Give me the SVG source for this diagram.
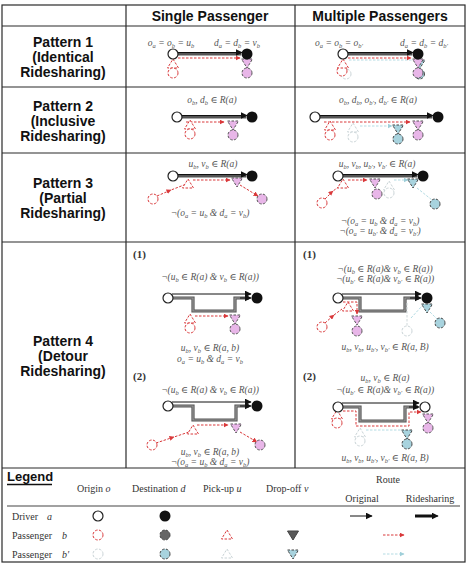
<svg xmlns="http://www.w3.org/2000/svg" xmlns:xlink="http://www.w3.org/1999/xlink" width="468" height="579" viewBox="0 0 468 579">
<style>
.grid{stroke:#2a2a2a;stroke-width:1.2;fill:none}
.hd{font-family:"Liberation Sans",Arial,sans-serif;font-weight:bold;font-size:14px;text-anchor:middle;fill:#111}
.pl{font-family:"Liberation Sans",Arial,sans-serif;font-weight:bold;font-size:14px;text-anchor:middle;fill:#111}
.m{font-family:"Liberation Serif","DejaVu Serif",serif;font-style:italic;font-size:9.5px;fill:#555;text-anchor:middle}
.s{font-size:6.5px;baseline-shift:-1.8px}
.n{font-family:"Liberation Serif","DejaVu Serif",serif;font-weight:bold;font-size:11px;fill:#333}
.lg{font-family:"Liberation Serif","DejaVu Serif",serif;font-size:10px;fill:#333}
.lgi{font-style:italic}
.orig{stroke:#111;stroke-width:1;fill:none}
.ride{stroke:#555;stroke-width:3.2;fill:none}
.ridein{stroke:#9a9a9a;stroke-width:1.2;fill:none}
.red{stroke:#d9383a;stroke-width:1;stroke-dasharray:2.5,1.5;fill:none}
.cy{stroke:#b3dbe3;stroke-width:1;stroke-dasharray:2.5,1.5;fill:none}
.gy{stroke:#cfd8da;stroke-width:1;stroke-dasharray:2.5,1.5;fill:none}
</style>
<defs>
<marker id="ak" viewBox="0 0 10 10" refX="9" refY="5" markerWidth="7" markerHeight="7" orient="auto" markerUnits="userSpaceOnUse"><path d="M0,0 L10,5 L0,10 z" fill="#111"/></marker>
<marker id="ar" viewBox="0 0 10 10" refX="9" refY="5" markerWidth="5" markerHeight="5" orient="auto" markerUnits="userSpaceOnUse"><path d="M0,0 L10,5 L0,10 z" fill="#d9383a"/></marker>
<marker id="ac" viewBox="0 0 10 10" refX="9" refY="5" markerWidth="5" markerHeight="5" orient="auto" markerUnits="userSpaceOnUse"><path d="M0,0 L10,5 L0,10 z" fill="#9fcfd9"/></marker>
<g id="dO"><circle r="5" fill="#fff" stroke="#222" stroke-width="1.2"/></g>
<g id="dD"><circle r="5.5" fill="#111"/></g>
<g id="bO"><circle r="5" fill="#fff" stroke="#d9383a" stroke-width="1" stroke-dasharray="2.5,1.5"/></g>
<g id="bU"><path d="M0,-5 L5.5,4 L-5.5,4 Z" fill="#fff" stroke="#d9383a" stroke-width="1" stroke-dasharray="2.5,1.5"/></g>
<g id="bV"><path d="M-5.5,-4 L5.5,-4 L0,5 Z" fill="#e8b6e8" stroke="#555" stroke-width="1" stroke-dasharray="2.5,1.5"/></g>
<g id="bD"><circle r="5" fill="#e8b6e8" stroke="#555" stroke-width="1" stroke-dasharray="2.5,1.5"/></g>
<g id="cO"><circle r="5" fill="#fff" stroke="#c9d3d6" stroke-width="1" stroke-dasharray="2.5,1.5"/></g>
<g id="cU"><path d="M0,-5 L5.5,4 L-5.5,4 Z" fill="#fff" stroke="#c9d3d6" stroke-width="1" stroke-dasharray="2.5,1.5"/></g>
<g id="cV"><path d="M-5.5,-4 L5.5,-4 L0,5 Z" fill="#a8d3de" stroke="#444" stroke-width="1" stroke-dasharray="2.5,1.5"/></g>
<g id="cD"><circle r="5" fill="#a8d3de" stroke="#444" stroke-width="1" stroke-dasharray="2.5,1.5"/></g>
<g id="gV"><path d="M-5.5,-4 L5.5,-4 L0,5 Z" fill="#5a5a5a" stroke="#444" stroke-width="1"/></g>
<g id="gD"><circle r="5" fill="#666" stroke="#444" stroke-width="1" stroke-dasharray="2.5,1.5"/></g>
</defs>
<rect width="468" height="579" fill="#fff"/>

<g id="grid" class="grid">
<rect x="2" y="5" width="463" height="557"/>
<line x1="2" y1="26" x2="465" y2="26"/>
<line x1="2" y1="87" x2="465" y2="87"/>
<line x1="2" y1="153" x2="465" y2="153"/>
<line x1="2" y1="242" x2="465" y2="242"/>
<line x1="2" y1="468" x2="465" y2="468"/>
<line x1="126" y1="5" x2="126" y2="468"/>
<line x1="295" y1="5" x2="295" y2="468"/>
</g>

<g id="headers">
<text class="hd" x="210" y="21">Single Passenger</text>
<text class="hd" x="380" y="21">Multiple Passengers</text>
<text class="pl" x="63" y="47">Pattern 1</text>
<text class="pl" x="63" y="62">(Identical</text>
<text class="pl" x="63" y="77">Ridesharing)</text>
<text class="pl" x="63" y="111">Pattern 2</text>
<text class="pl" x="63" y="126">(Inclusive</text>
<text class="pl" x="63" y="141">Ridesharing)</text>
<text class="pl" x="63" y="188">Pattern 3</text>
<text class="pl" x="63" y="203">(Partial</text>
<text class="pl" x="63" y="218">Ridesharing)</text>
<text class="pl" x="63" y="346">Pattern 4</text>
<text class="pl" x="63" y="361">(Detour</text>
<text class="pl" x="63" y="376">Ridesharing)</text>
</g>

<g id="formulas">
<text class="m" x="171" y="46">o<tspan class="s">a</tspan> = o<tspan class="s">b</tspan> = u<tspan class="s">b</tspan></text>
<text class="m" x="237" y="46">d<tspan class="s">a</tspan> = d<tspan class="s">b</tspan> = v<tspan class="s">b</tspan></text>
<text class="m" x="339" y="46">o<tspan class="s">a</tspan> = o<tspan class="s">b</tspan> = o<tspan class="s">b′</tspan></text>
<text class="m" x="424" y="46">d<tspan class="s">a</tspan> = d<tspan class="s">b</tspan> = d<tspan class="s">b′</tspan></text>
<text class="m" x="212" y="103">o<tspan class="s">b</tspan>, d<tspan class="s">b</tspan> ∈ R(a)</text>
<text class="m" x="378" y="103">o<tspan class="s">b</tspan>, d<tspan class="s">b</tspan>, o<tspan class="s">b′</tspan>, d<tspan class="s">b′</tspan> ∈ R(a)</text>
<text class="m" x="213" y="167">u<tspan class="s">b</tspan>, v<tspan class="s">b</tspan> ∈ R(a)</text>
<text class="m" x="210" y="216">¬(o<tspan class="s">a</tspan> = u<tspan class="s">b</tspan> &amp; d<tspan class="s">a</tspan> = v<tspan class="s">b</tspan>)</text>
<text class="m" x="377" y="167">u<tspan class="s">b</tspan>, v<tspan class="s">b</tspan>, u<tspan class="s">b′</tspan>, v<tspan class="s">b′</tspan> ∈ R(a)</text>
<text class="m" x="380" y="224">¬(o<tspan class="s">a</tspan> = u<tspan class="s">b</tspan> &amp; d<tspan class="s">a</tspan> = v<tspan class="s">b</tspan>)</text>
<text class="m" x="380" y="234">¬(o<tspan class="s">a</tspan> = u<tspan class="s">b′</tspan> &amp; d<tspan class="s">a</tspan> = v<tspan class="s">b′</tspan>)</text>
<text class="n" x="133" y="258">(1)</text>
<text class="m" x="210" y="280">¬(u<tspan class="s">b</tspan> ∈ R(a) &amp; v<tspan class="s">b</tspan> ∈ R(a))</text>
<text class="m" x="210" y="351">u<tspan class="s">b</tspan>, v<tspan class="s">b</tspan> ∈ R(a, b)</text>
<text class="m" x="210" y="362">o<tspan class="s">a</tspan> = u<tspan class="s">b</tspan> &amp; d<tspan class="s">a</tspan> = v<tspan class="s">b</tspan></text>
<text class="n" x="133" y="380">(2)</text>
<text class="m" x="210" y="393">¬(u<tspan class="s">b</tspan> ∈ R(a) &amp; v<tspan class="s">b</tspan> ∈ R(a))</text>
<text class="m" x="210" y="455">u<tspan class="s">b</tspan>, v<tspan class="s">b</tspan> ∈ R(a, b)</text>
<text class="m" x="210" y="465">¬(o<tspan class="s">a</tspan> = u<tspan class="s">b</tspan> &amp; d<tspan class="s">a</tspan> = v<tspan class="s">b</tspan>)</text>
<text class="n" x="303" y="258">(1)</text>
<text class="m" x="385" y="272">¬(u<tspan class="s">b</tspan> ∈ R(a)&amp; v<tspan class="s">b</tspan> ∈ R(a))</text>
<text class="m" x="385" y="282">¬(u<tspan class="s">b′</tspan> ∈ R(a)&amp; v<tspan class="s">b′</tspan> ∈ R(a))</text>
<text class="m" x="385" y="350">u<tspan class="s">b</tspan>, v<tspan class="s">b</tspan>, u<tspan class="s">b′</tspan>, v<tspan class="s">b′</tspan> ∈ R(a, B)</text>
<text class="n" x="303" y="380">(2)</text>
<text class="m" x="385" y="381">u<tspan class="s">b</tspan>, v<tspan class="s">b</tspan> ∈ R(a)</text>
<text class="m" x="385" y="393">¬(u<tspan class="s">b′</tspan> ∈ R(a)&amp; v<tspan class="s">b′</tspan> ∈ R(a))</text>
<text class="m" x="385" y="461">u<tspan class="s">b</tspan>, v<tspan class="s">b</tspan>, u<tspan class="s">b′</tspan>, v<tspan class="s">b′</tspan> ∈ R(a, B)</text>
</g>

<g id="connectors">
<line class="ride" x1="178" y1="54" x2="241" y2="54"/>
<line class="orig" x1="178" y1="52.5" x2="242" y2="52.5" marker-end="url(#ak)"/>
<line class="red" x1="178" y1="58" x2="240" y2="58" marker-end="url(#ar)"/>
<line class="ride" x1="348" y1="54" x2="412" y2="54"/>
<line class="orig" x1="348" y1="52.5" x2="413" y2="52.5" marker-end="url(#ak)"/>
<line class="cy" x1="349" y1="60" x2="412" y2="60"/>
<line class="red" x1="348" y1="58" x2="411" y2="58" marker-end="url(#ar)"/>
<line class="ride" x1="182" y1="117" x2="246" y2="117"/>
<line class="orig" x1="182" y1="115.5" x2="247" y2="115.5" marker-end="url(#ak)"/>
<line class="red" x1="186" y1="122" x2="224" y2="122" marker-end="url(#ar)"/>
<line class="ride" x1="320" y1="117" x2="432" y2="117"/>
<line class="orig" x1="320" y1="115.5" x2="433" y2="115.5" marker-end="url(#ak)"/>
<line class="red" x1="324" y1="122" x2="410" y2="122" marker-end="url(#ar)"/>
<line class="cy" x1="360" y1="126" x2="392" y2="126" marker-end="url(#ac)"/>
<line class="ride" x1="178" y1="176" x2="246" y2="176"/>
<line class="orig" x1="178" y1="174.5" x2="247" y2="174.5" marker-end="url(#ak)"/>
<path class="red" d="M157,196 L171,190 L184,185" marker-mid="url(#ar)"/>
<line class="red" x1="193" y1="180" x2="230" y2="180" marker-end="url(#ar)"/>
<line class="red" x1="240" y1="185" x2="258" y2="196" marker-end="url(#ar)"/>
<line class="ride" x1="343" y1="176" x2="417" y2="176"/>
<line class="orig" x1="343" y1="174.5" x2="418" y2="174.5" marker-end="url(#ak)"/>
<path class="red" d="M325,199 L333,191 L340,186" marker-mid="url(#ar)"/>
<line class="red" x1="348" y1="180" x2="367" y2="180" marker-end="url(#ar)"/>
<line class="cy" x1="394" y1="180" x2="408" y2="180" marker-end="url(#ac)"/>
<line class="cy" x1="417" y1="188" x2="432" y2="200"/>
<line class="orig" x1="172" y1="294" x2="251" y2="294" marker-end="url(#ak)"/>
<path class="ride" d="M173,298 H193 V311 H235 V298 H249"/>
<path class="ridein" d="M173,298 H193 V311 H235 V298 H249"/>
<line class="orig" x1="240" y1="298" x2="251" y2="298" marker-end="url(#ak)"/>
<line class="red" x1="195" y1="316" x2="228" y2="316" marker-end="url(#ar)"/>
<line class="orig" x1="172" y1="402" x2="251" y2="402" marker-end="url(#ak)"/>
<path class="ride" d="M173,406 H193 V420 H236 V406 H249"/>
<path class="ridein" d="M173,406 H193 V420 H236 V406 H249"/>
<line class="orig" x1="240" y1="406" x2="251" y2="406" marker-end="url(#ak)"/>
<path class="red" d="M156,443 L174,437 L189,432" marker-mid="url(#ar)"/>
<line class="red" x1="197" y1="425" x2="228" y2="425" marker-end="url(#ar)"/>
<line class="red" x1="240" y1="432" x2="257" y2="442" marker-end="url(#ar)"/>
<line class="orig" x1="342" y1="294" x2="421" y2="294" marker-end="url(#ak)"/>
<path class="ride" d="M343,298 H360 V311 H405 V298 H419"/>
<path class="ridein" d="M343,298 H360 V311 H405 V298 H419"/>
<line class="orig" x1="410" y1="298" x2="421" y2="298" marker-end="url(#ak)"/>
<path class="red" d="M325,323 L334,315 L342,309" marker-mid="url(#ar)"/>
<path class="red" d="M343,302 H357 V314" marker-end="url(#ar)"/>
<line class="gy" x1="407" y1="303" x2="407" y2="326"/>
<line class="cy" x1="411" y1="318" x2="422" y2="306"/>
<line class="cy" x1="430" y1="312" x2="437" y2="319"/>
<line class="orig" x1="342" y1="403" x2="419" y2="403" marker-end="url(#ak)"/>
<path class="ride" d="M343,407 H360 V421 H405 V407 H418"/>
<path class="ridein" d="M343,407 H360 V421 H405 V407 H418"/>
<line class="orig" x1="409" y1="407" x2="419" y2="407" marker-end="url(#ak)"/>
<path class="red" d="M343,411 H356 V426 H409 V412 H421" marker-end="url(#ar)"/>
<line class="cy" x1="366" y1="430" x2="401" y2="430"/>
<line class="orig" x1="350" y1="516" x2="372" y2="516" marker-end="url(#ak)"/>
<line stroke="#111" stroke-width="3" x1="415" y1="516" x2="432" y2="516"/>
<line class="orig" x1="428" y1="516" x2="438" y2="516" marker-end="url(#ak)"/>
<line class="red" x1="383" y1="535" x2="404" y2="535" marker-end="url(#ar)"/>
<line class="cy" x1="383" y1="554" x2="404" y2="554" marker-end="url(#ac)"/>
</g>

<g id="p1-single">
<use id="p1s-bU" href="#bU" x="173" y="64"/>
<use id="p1s-bO" href="#bO" x="173" y="73"/>
<use id="p1s-bV" href="#bV" x="247" y="63"/>
<use id="p1s-bD" href="#bD" x="247" y="73"/>
<use id="p1s-aO" href="#dO" x="173" y="54"/>
<use id="p1s-aD" href="#dD" x="247" y="54"/>
</g>
<g id="p1-multi">
<use id="p1m-cO" href="#cO" x="346" y="74"/>
<use id="p1m-bO" href="#bO" x="342" y="71"/>
<use id="p1m-bU" href="#bU" x="343" y="64"/>
<use id="p1m-cV" href="#cV" x="419.5" y="64"/>
<use id="p1m-cD" href="#cD" x="419.5" y="74"/>
<use id="p1m-bV" href="#bV" x="418" y="63"/>
<use id="p1m-bD" href="#bD" x="418" y="73"/>
<use id="p1m-aO" href="#dO" x="343" y="54"/>
<use id="p1m-aD" href="#dD" x="418" y="54"/>
</g>
<g id="p2-single">
<use id="p2s-bU" href="#bU" x="190" y="125"/>
<use id="p2s-bO" href="#bO" x="190" y="134"/>
<use id="p2s-bV" href="#bV" x="233" y="125"/>
<use id="p2s-bD" href="#bD" x="233" y="135"/>
<use id="p2s-aO" href="#dO" x="177" y="117"/>
<use id="p2s-aD" href="#dD" x="252" y="117"/>
</g>
<g id="p2-multi">
<use id="p2m-bU" href="#bU" x="330" y="126"/>
<use id="p2m-bO" href="#bO" x="330" y="135"/>
<use id="p2m-cU" href="#cU" x="353" y="128"/>
<use id="p2m-cO" href="#cO" x="353" y="137"/>
<use id="p2m-cV" href="#cV" x="398" y="129"/>
<use id="p2m-cD" href="#cD" x="398" y="139"/>
<use id="p2m-bV" href="#bV" x="418" y="125"/>
<use id="p2m-bD" href="#bD" x="418" y="135"/>
<use id="p2m-aO" href="#dO" x="315" y="117"/>
<use id="p2m-aD" href="#dD" x="438" y="117"/>
</g>
<g id="p3-single">
<use id="p3s-bO" href="#bO" x="153" y="199"/>
<use id="p3s-bU" href="#bU" x="188" y="184"/>
<use id="p3s-bV" href="#bV" x="237" y="182"/>
<use id="p3s-bD" href="#bD" x="262" y="199"/>
<use id="p3s-aO" href="#dO" x="173" y="176"/>
<use id="p3s-aD" href="#dD" x="252" y="176"/>
</g>
<g id="p3-multi">
<use id="p3m-bO" href="#bO" x="322" y="203"/>
<use id="p3m-bU" href="#bU" x="343" y="184"/>
<use id="p3m-cU" href="#cU" x="389" y="186"/>
<use id="p3m-cO" href="#cO" x="389" y="193"/>
<use id="p3m-bV" href="#bV" x="375" y="183"/>
<use id="p3m-bD" href="#bD" x="377" y="194"/>
<use id="p3m-cV" href="#cV" x="413" y="183"/>
<use id="p3m-cD" href="#cD" x="435" y="204"/>
<use id="p3m-aO" href="#dO" x="338" y="176"/>
<use id="p3m-aD" href="#dD" x="423" y="176"/>
</g>
<g id="p4-single-1">
<use id="p4s1-bU" href="#bU" x="190" y="319"/>
<use id="p4s1-bO" href="#bO" x="190" y="328"/>
<use id="p4s1-bV" href="#bV" x="235" y="319"/>
<use id="p4s1-bD" href="#bD" x="235" y="329"/>
<use id="p4s1-aO" href="#dO" x="168" y="298"/>
<use id="p4s1-aD" href="#dD" x="257" y="298"/>
</g>
<g id="p4-single-2">
<use id="p4s2-bO" href="#bO" x="152" y="445"/>
<use id="p4s2-bU" href="#bU" x="193" y="430"/>
<use id="p4s2-bV" href="#bV" x="236" y="428"/>
<use id="p4s2-bD" href="#bD" x="260" y="445"/>
<use id="p4s2-aO" href="#dO" x="168" y="406"/>
<use id="p4s2-aD" href="#dD" x="257" y="406"/>
</g>
<g id="p4-multi-1">
<use id="p4m1-bO" href="#bO" x="322" y="327"/>
<use id="p4m1-bU" href="#bU" x="348" y="307"/>
<use id="p4m1-bV" href="#bV" x="357" y="320"/>
<use id="p4m1-bD" href="#bD" x="357" y="331"/>
<use id="p4m1-cO" href="#cO" x="407" y="331"/>
<use id="p4m1-cV" href="#cV" x="427" y="308"/>
<use id="p4m1-cD" href="#cD" x="440" y="323"/>
<use id="p4m1-aO" href="#dO" x="338" y="298"/>
<use id="p4m1-aD" href="#dD" x="427" y="298"/>
</g>
<g id="p4-multi-2">
<use id="p4m2-bU" href="#bU" x="337" y="415"/>
<use id="p4m2-bO" href="#bO" x="337" y="423"/>
<use id="p4m2-cU" href="#cU" x="360" y="433"/>
<use id="p4m2-cO" href="#cO" x="360" y="441"/>
<use id="p4m2-cV" href="#cV" x="407" y="434"/>
<use id="p4m2-cD" href="#cD" x="407" y="444"/>
<use id="p4m2-bV" href="#bV" x="428" y="418"/>
<use id="p4m2-bD" href="#bD" x="428" y="428"/>
<use id="p4m2-aO" href="#dO" x="338" y="407"/>
<use id="p4m2-aD" href="#dO" x="425" y="407"/>
</g>

<g id="legend">
<text x="7" y="481" font-family="Liberation Sans, Arial, sans-serif" font-weight="bold" font-size="13" fill="#111">Legend</text>
<line x1="7" y1="484.5" x2="52" y2="484.5" stroke="#111" stroke-width="1.6"/>
<text class="lg" x="77" y="492">Origin <tspan class="lgi">o</tspan></text>
<text class="lg" x="132" y="492">Destination  <tspan class="lgi">d</tspan></text>
<text class="lg" x="203" y="492">Pick-up <tspan class="lgi">u</tspan></text>
<text class="lg" x="266" y="492">Drop-off  <tspan class="lgi">v</tspan></text>
<text class="lg" x="388" y="483" text-anchor="middle">Route</text>
<text class="lg" x="362" y="502" text-anchor="middle">Original</text>
<text class="lg" x="430" y="502" text-anchor="middle">Ridesharing</text>
<line x1="7" y1="506" x2="460" y2="506" stroke="#444" stroke-width="1.2"/>
<text class="lg" x="12" y="520">Driver</text>
<text class="lg lgi" x="47" y="520">a</text>
<text class="lg" x="12" y="539">Passenger</text>
<text class="lg lgi" x="62" y="539">b</text>
<text class="lg" x="12" y="558">Passenger</text>
<text class="lg lgi" x="62" y="558">b′</text>
<use id="lg-aO" href="#dO" x="98" y="516"/>
<use id="lg-aD" href="#dD" x="165" y="516"/>
<use id="lg-bO" href="#bO" x="98" y="535"/>
<use id="lg-bD" href="#gD" x="165" y="535"/>
<use id="lg-bU" href="#bU" x="227" y="535"/>
<use id="lg-bV" href="#gV" x="293" y="535"/>
<use id="lg-cO" href="#cO" x="98" y="554"/>
<use id="lg-cD" href="#cD" x="165" y="554"/>
<use id="lg-cU" href="#cU" x="227" y="554"/>
<use id="lg-cV" href="#cV" x="293" y="554"/>
</g>
</svg>
